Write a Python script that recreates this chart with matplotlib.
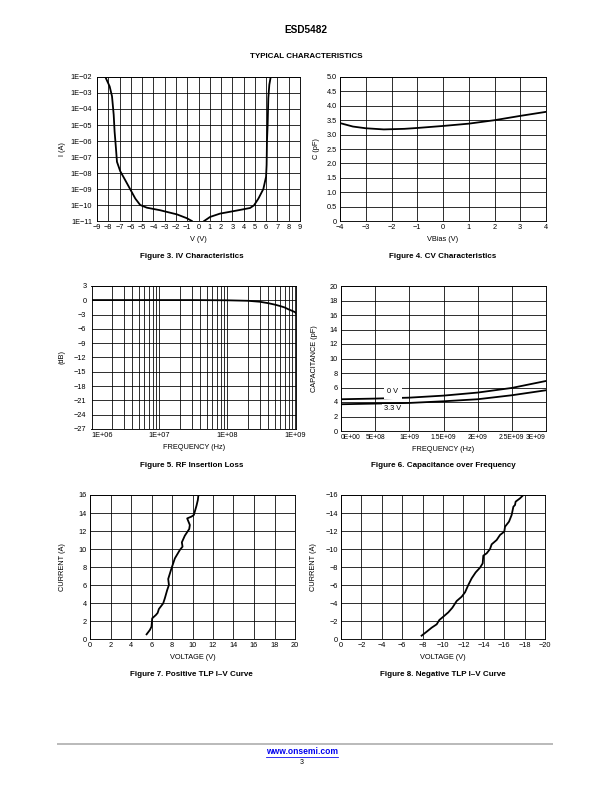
import matplotlib
matplotlib.use('Agg')
import matplotlib.pyplot as plt
from matplotlib.ticker import LogLocator, NullFormatter, NullLocator
from matplotlib.lines import Line2D

plt.rcParams['font.family'] = ['Liberation Sans', 'DejaVu Sans']

M = '\u2212'

# ---- Figure 3: IV characteristics ----
iv_neg_v = [-0.59, -1.04, -1.92, -3.4, -4.58, -5.17, -5.6, -6.05, -6.5, -6.94,
            -7.23, -7.32, -7.44, -7.52, -7.67, -7.88, -8.26]
iv_neg_i = [1.0e-11, 1.5e-11, 2.6e-11, 4.7e-11, 6.8e-11, 1.0e-10, 2.5e-10, 9.5e-10,
            3.6e-9, 1.3e-8, 5.0e-8, 3.5e-7, 3.9e-6, 4.4e-5, 6.3e-4, 2.6e-3, 1.0e-2]
iv_pos_v = [0.5, 1.03, 1.91, 3.39, 4.57, 4.92, 5.31, 5.75, 5.99, 6.04, 6.07,
            6.13, 6.19, 6.28, 6.4]
iv_pos_i = [1.0e-11, 1.8e-11, 2.9e-11, 4.5e-11, 6.5e-11, 9.5e-11, 2.5e-10, 1.0e-9,
            5.8e-9, 3.2e-8, 9.1e-7, 1.0e-5, 4.8e-4, 3.3e-3, 1.0e-2]
iv_xticks = [-9, -8, -7, -6, -5, -4, -3, -2, -1, 0, 1, 2, 3, 4, 5, 6, 7, 8, 9]
iv_yticks = [1e-2, 1e-3, 1e-4, 1e-5, 1e-6, 1e-7, 1e-8, 1e-9, 1e-10, 1e-11]
iv_ylabels = ['1E' + M + '02', '1E' + M + '03', '1E' + M + '04', '1E' + M + '05',
              '1E' + M + '06', '1E' + M + '07', '1E' + M + '08', '1E' + M + '09',
              '1E' + M + '10', '1E' + M + '11']

# ---- Figure 4: CV characteristics ----
cv_v = [-4, -3.5, -3, -2.3, -1.5, -1, 0, 1, 2, 3, 4]
cv_c = [3.4, 3.28, 3.22, 3.18, 3.2, 3.23, 3.3, 3.38, 3.5, 3.65, 3.79]
cv_yticks = [0, 0.5, 1.0, 1.5, 2.0, 2.5, 3.0, 3.5, 4.0, 4.5, 5.0]
cv_ylabels = ['0', '0.5', '1.0', '1.5', '2.0', '2.5', '3.0', '3.5', '4.0', '4.5', '5.0']

# ---- Figure 5: RF insertion loss ----
rf_f = [1e6, 3e6, 1e7, 3e7, 1e8, 2e8, 3e8, 4e8, 5e8, 6e8, 7e8, 8e8, 9e8, 1e9, 1.03e9]
rf_db = [0.05, 0.05, 0.05, 0.05, 0.0, -0.1, -0.3, -0.6, -0.9, -1.2, -1.5, -1.9,
         -2.2, -2.5, -2.7]
rf_xticks = [1e6, 1e7, 1e8, 1e9]
rf_xlabels = ['1E+06', '1E+07', '1E+08', '1E+09']
rf_yticks = [3, 0, -3, -6, -9, -12, -15, -18, -21, -24, -27]

# ---- Figure 6: capacitance over frequency ----
cf_f = [0, 5e8, 1e9, 1.5e9, 2e9, 2.5e9, 3e9]
cf_0v = [4.38, 4.47, 4.6, 4.88, 5.3, 5.94, 6.9]
cf_33v = [3.69, 3.78, 3.87, 4.1, 4.38, 4.93, 5.62]
cf_xticks = [0, 5e8, 1e9, 1.5e9, 2e9, 2.5e9, 3e9]
cf_xlabels = ['0E+00', '5E+08', '1E+09', '1.5E+09', '2E+09', '2.5E+09', '3E+09']
cf_yticks = [0, 2, 4, 6, 8, 10, 12, 14, 16, 18, 20]

# ---- Figure 7: positive TLP ----
tlp_pos_v = [5.52, 5.84, 6.0, 6.07, 6.43, 6.6, 6.72, 7.14, 7.3, 7.53, 7.7, 7.63,
             7.9, 8.28, 8.77, 9.03, 8.96, 9.25, 9.68, 9.74, 9.48, 9.9, 10.13,
             10.39, 10.52, 10.58]
tlp_pos_i = [0.52, 1.0, 1.37, 2.3, 2.67, 2.9, 3.33, 3.96, 4.52, 5.44, 6.0, 6.67,
             7.67, 8.96, 9.9, 10.26, 10.74, 11.48, 12.22, 12.67, 13.4, 13.6, 13.78,
             14.81, 15.44, 16.0]
tlp_pos_ticks = [0, 2, 4, 6, 8, 10, 12, 14, 16, 18, 20]

# ---- Figure 8: negative TLP ----
tlp_neg_v = [-7.9, -8.4, -8.89, -9.38, -9.64, -10.03, -10.52, -10.92, -11.34,
             -11.83, -12.16, -12.48, -12.81, -13.2, -13.63, -13.89, -13.95, -14.28,
             -14.61, -14.77, -15.26, -15.59, -16.01, -16.08, -16.47, -16.73, -16.9,
             -17.06, -17.12, -17.55, -17.88]
tlp_neg_i = [-0.37, -0.81, -1.26, -1.63, -2.11, -2.48, -2.96, -3.48, -4.22, -4.7,
             -5.19, -6.0, -6.74, -7.4, -7.93, -8.4, -9.26, -9.52, -10.0, -10.52,
             -11.0, -11.56, -11.93, -12.48, -13.04, -13.78, -14.7, -14.89, -15.26,
             -15.63, -16.0]
tlp_neg_xticks = [0, -2, -4, -6, -8, -10, -12, -14, -16, -18, -20]
tlp_neg_yticks = [0, -2, -4, -6, -8, -10, -12, -14, -16]

W, H = 612, 792
FS = 7.4   # tick labels
LFS = 7.4  # axis labels


def box(left, top, right, bottom):
    # pixel box -> figure fraction
    return [left / W, 1 - bottom / H, (right - left) / W, (bottom - top) / H]


def style(ax, ypad=3):
    ax.grid(True, which='both', color='black', linewidth=0.8)
    ax.set_axisbelow(True)
    for s in ax.spines.values():
        s.set_linewidth(0.9)
    ax.tick_params(which='both', length=0, labelsize=FS)
    ax.tick_params(axis='x', pad=3)
    ax.tick_params(axis='y', pad=ypad)


def ylabel_at(ax, text, xpix, axbox):
    # xpix = centre of the rotated label in pixels
    ax.set_ylabel(text, fontsize=LFS)
    x = (xpix + 4 - axbox[0] * W) / (axbox[2] * W)
    ax.yaxis.set_label_coords(x, 0.5)


fig = plt.figure(figsize=(8.5, 11), dpi=72)

fig.text(306 / W, 1 - 30 / H, 'ESD5482', ha='center', va='center',
         fontsize=10, fontweight='bold')
fig.text(306 / W, 1 - 57 / H, 'TYPICAL CHARACTERISTICS', ha='center', va='center',
         fontsize=8, fontweight='bold')

# Figure 3
b3 = box(97, 77, 300, 221)
ax = fig.add_axes(b3)
ax.plot(iv_neg_v, iv_neg_i, color='black', lw=1.8)
ax.plot(iv_pos_v, iv_pos_i, color='black', lw=1.8)
ax.set_yscale('log')
ax.set_xlim(-9, 9)
ax.set_ylim(1e-11, 1e-2)
ax.set_xticks(iv_xticks)
ax.set_xticklabels([str(v).replace('-', M) for v in iv_xticks])
ax.set_yticks(iv_yticks)
ax.set_yticklabels(iv_ylabels)
ax.yaxis.set_minor_locator(NullLocator())
style(ax, ypad=5)
ax.set_xlabel('V (V)', fontsize=LFS, labelpad=5)
ylabel_at(ax, 'I (A)', 62, b3)

# Figure 4
b4 = box(340, 77, 546, 221)
ax = fig.add_axes(b4)
ax.plot(cv_v, cv_c, color='black', lw=1.8)
ax.set_xlim(-4, 4)
ax.set_ylim(0, 5)
ax.set_xticks(range(-4, 5))
ax.set_xticklabels([str(v).replace('-', M) for v in range(-4, 5)])
ax.set_yticks(cv_yticks)
ax.set_yticklabels(cv_ylabels)
style(ax)
ax.set_xlabel('VBias (V)', fontsize=LFS, labelpad=5)
ylabel_at(ax, 'C (pF)', 316, b4)

# Figure 5
b5 = box(91.5, 286, 296, 429)
ax = fig.add_axes(b5)
ax.plot(rf_f, rf_db, color='black', lw=1.8)
ax.set_xscale('log')
ax.set_xlim(1e6, 1.03e9)
ax.set_ylim(-27, 3)
ax.set_xticks(rf_xticks)
ax.set_xticklabels(rf_xlabels)
ax.xaxis.set_minor_locator(LogLocator(base=10, subs=range(2, 10)))
ax.xaxis.set_minor_formatter(NullFormatter())
ax.set_yticks(rf_yticks)
ax.set_yticklabels([str(v).replace('-', M) for v in rf_yticks])
style(ax, ypad=5)
ax.get_xticklabels()[0].set_ha('left')
ax.set_xlabel('FREQUENCY (Hz)', fontsize=LFS, labelpad=5)
ylabel_at(ax, '(dB)', 62, b5)

# Figure 6
b6 = box(341, 286, 546, 431)
ax = fig.add_axes(b6)
ax.plot(cf_f, cf_0v, color='black', lw=1.8)
ax.plot(cf_f, cf_33v, color='black', lw=1.8)
ax.set_xlim(0, 3e9)
ax.set_ylim(0, 20)
ax.set_xticks(cf_xticks)
ax.set_xticklabels(cf_xlabels)
ax.set_yticks(cf_yticks)
style(ax)
ax.tick_params(axis='x', labelsize=6.7)
ax.get_xticklabels()[0].set_ha('left')
ax.get_xticklabels()[-1].set_ha('right')
ax.text(0.76e9, 5.38, '0 V', fontsize=FS, ha='center', va='center', zorder=4,
        bbox=dict(facecolor='white', edgecolor='none', pad=3.5))
ax.text(0.75e9, 3.1, '3.3 V', fontsize=FS, ha='center', va='center', zorder=4,
        bbox=dict(facecolor='white', edgecolor='none', pad=1.5))
ax.set_xlabel('FREQUENCY (Hz)', fontsize=LFS, labelpad=5)
ylabel_at(ax, 'CAPACITANCE (pF)', 314, b6)

# Figure 7
b7 = box(90, 495, 295, 639)
ax = fig.add_axes(b7)
ax.plot(tlp_pos_v, tlp_pos_i, color='black', lw=1.8)
ax.set_xlim(0, 20)
ax.set_ylim(0, 16)
ax.set_xticks(tlp_pos_ticks)
ax.set_yticks(tlp_pos_ticks[:9])
style(ax)
ax.set_xlabel('VOLTAGE (V)', fontsize=LFS, labelpad=5)
ylabel_at(ax, 'CURRENT (A)', 62, b7)

# Figure 8
b8 = box(341, 495, 545, 639)
ax = fig.add_axes(b8)
ax.plot(tlp_neg_v, tlp_neg_i, color='black', lw=1.8)
ax.set_xlim(0, -20)
ax.set_ylim(0, -16)
ax.set_xticks(tlp_neg_xticks)
ax.set_xticklabels([str(v).replace('-', M) for v in tlp_neg_xticks])
ax.set_yticks(tlp_neg_yticks)
ax.set_yticklabels([str(v).replace('-', M) for v in tlp_neg_yticks])
style(ax)
ax.set_xlabel('VOLTAGE (V)', fontsize=LFS, labelpad=5)
ylabel_at(ax, 'CURRENT (A)', 313, b8)

# captions
captions = [(192, 257, 'Figure 3. IV Characteristics'),
            (443, 257, 'Figure 4. CV Characteristics'),
            (192, 466, 'Figure 5. RF Insertion Loss'),
            (443, 466, 'Figure 6. Capacitance over Frequency'),
            (191, 675, 'Figure 7. Positive TLP I\u2013V Curve'),
            (443, 675, 'Figure 8. Negative TLP I\u2013V Curve')]
for cx, cy, t in captions:
    fig.text(cx / W, 1 - cy / H, t, ha='center', va='center', fontsize=8,
             fontweight='bold')

# footer
fig.add_artist(Line2D([58 / W, 552 / W], [1 - 744 / H, 1 - 744 / H],
                      color='#bbbbbb', lw=2))
fig.text(302 / W, 1 - 751 / H, 'www.onsemi.com', ha='center', va='center',
         fontsize=8.5, fontweight='bold', color='#0000ee')
fig.add_artist(Line2D([266 / W, 338 / W], [1 - 756.5 / H, 1 - 756.5 / H],
                      color='#0000ee', lw=0.8))
fig.text(302 / W, 1 - 762 / H, '3', ha='center', va='center', fontsize=7)

fig.savefig('out.png', dpi=72)
